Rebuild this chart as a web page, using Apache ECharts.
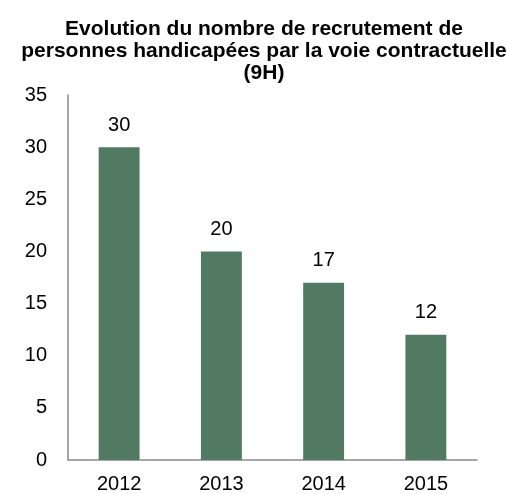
<!DOCTYPE html>
<html lang="fr">
<head>
<meta charset="UTF-8">
<title>Recrutement 9H</title>
<script src="https://cdn.jsdelivr.net/npm/echarts@6/dist/echarts.min.js"></script>
<style>
    *{ margin: 0; padding: 0; }
    html, body{ width: 100%; height: 100%; overflow: hidden; background: #fff; }
    #chart{ width: 507px; height: 494px; }
</style>
</head>
<body>
<div id="chart"></div>
<script>
    // données
    let years = ['2012', '2013', '2014', '2015'];
    let recrutements = [30, 20, 17, 12];

    let chart = echarts.init(document.getElementById('chart'));

    let option = {
        animation: false,
        title: {
            text: 'Evolution du nombre de recrutement de\npersonnes handicapées par la voie contractuelle\n(9H)',
            left: 259,
            textAlign: 'center',
            top: 13,
            textStyle: {
                fontFamily: 'Liberation Sans, Arial',
                fontWeight: 'bold',
                fontSize: 21,
                lineHeight: 22,
                color: '#000'
            }
        },
        grid: {
            left: 68,
            right: 30,
            top: 95,
            bottom: 34
        },
        xAxis: {
            type: 'category',
            data: years,
            axisLine: { lineStyle: { color: '#898989', width: 1.5 } },
            axisTick: { show: false },
            axisLabel: {
                margin: 14,
                fontFamily: 'Liberation Sans, Arial',
                fontSize: 20,
                color: '#000'
            }
        },
        yAxis: {
            type: 'value',
            min: 0,
            max: 35,
            interval: 5,
            axisLine: { show: true, lineStyle: { color: '#898989', width: 1.5 } },
            axisTick: { show: false },
            splitLine: { show: false },
            axisLabel: {
                margin: 21,
                fontFamily: 'Liberation Sans, Arial',
                fontSize: 20,
                color: '#000'
            }
        },
        series: [{
            type: 'bar',
            data: recrutements,
            barWidth: '40%',
            itemStyle: { color: '#527a62' },
            label: {
                show: true,
                position: 'top',
                distance: 12,
                fontFamily: 'Liberation Sans, Arial',
                fontSize: 20,
                color: '#000'
            }
        }]
    };

    chart.setOption(option);
</script>
</body>
</html>
